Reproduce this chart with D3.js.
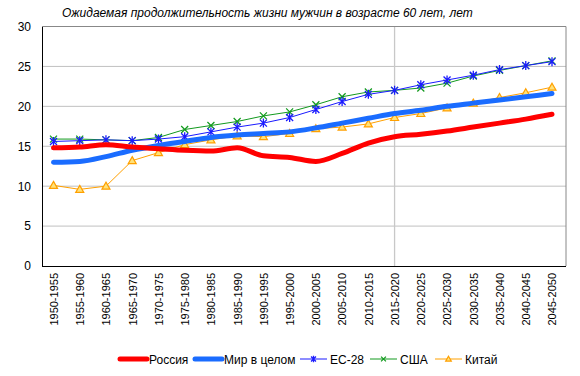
<!DOCTYPE html>
<html><head><meta charset="utf-8">
<script src="https://cdn.jsdelivr.net/npm/d3@7"></script>
<style>body{margin:0;background:#fff}svg{display:block;font-family:"Liberation Sans",Arial,sans-serif}</style>
</head><body><svg id="c" width="580" height="376"></svg>
<script>
const categories = ["1950-1955","1955-1960","1960-1965","1965-1970","1970-1975","1975-1980","1980-1985","1985-1990","1990-1995","1995-2000","2000-2005","2005-2010","2010-2015","2015-2020","2020-2025","2025-2030","2030-2035","2035-2040","2040-2045","2045-2050"];
const russia = [14.8,14.9,15.2,14.9,14.7,14.5,14.4,14.8,13.8,13.6,13.1,14.1,15.4,16.2,16.5,16.9,17.4,17.9,18.4,19.0];
const world  = [13.0,13.1,13.7,14.5,15.1,15.6,16.1,16.4,16.6,16.8,17.3,17.9,18.5,19.1,19.5,20.0,20.4,20.8,21.2,21.6];
const eu28   = [15.6,15.7,15.8,15.7,15.9,16.2,16.8,17.4,17.9,18.6,19.6,20.6,21.5,22.0,22.7,23.3,23.9,24.6,25.1,25.6];
const usa    = [15.9,15.9,15.8,15.7,16.1,17.1,17.6,18.1,18.8,19.3,20.2,21.2,21.8,22.0,22.3,22.9,23.8,24.5,25.1,25.7];
const china  = [10.1,9.6,10.0,13.2,14.2,15.2,15.8,16.3,16.2,16.6,17.2,17.4,17.8,18.6,19.1,19.8,20.4,21.1,21.7,22.4];
const yTicks = [0,5,10,15,20,25,30];
const seriesNames = ["Россия","Мир в целом","ЕС-28","США","Китай"];
const title = "Ожидаемая продолжительность жизни мужчин в возрасте 60 лет, лет";

const svg = d3.select("#c");
const L=42,R=566,T=26.5,B=266;
const x = d3.scalePoint().domain(categories).range([53.5,552]);
const y = d3.scaleLinear().domain([0,30]).range([B,T]);

svg.append("text").attr("x",62).attr("y",17).attr("font-size",12).attr("font-style","italic").attr("fill","#000").text(title);

// gridlines
svg.append("g").selectAll("line").data(yTicks.filter(d=>d>0&&d<30)).join("line")
  .attr("x1",L).attr("x2",R).attr("y1",d=>y(d)).attr("y2",d=>y(d)).attr("stroke","#c0c0c0").attr("stroke-width",1);
// vertical marker line at 2015-2020
svg.append("line").attr("x1",x("2015-2020")).attr("x2",x("2015-2020")).attr("y1",T).attr("y2",B).attr("stroke","#c8c8c8").attr("stroke-width",1.3);
// frame top/right
svg.append("path").attr("d",`M${L},${T}H${R}V${B}`).attr("fill","none").attr("stroke","#888").attr("stroke-width",1);

// y axis labels
const yAxis = d3.axisLeft(y).tickValues(yTicks).tickSize(0).tickPadding(11);
const gy = svg.append("g").attr("transform",`translate(${L},0)`).call(yAxis);
gy.select(".domain").attr("stroke","#000");
gy.selectAll("text").attr("font-size",12).attr("font-family","Liberation Sans, Arial, sans-serif").attr("fill","#000");

const xAxis = d3.axisBottom(x).tickSize(0).tickPadding(7);
const gx = svg.append("g").attr("transform",`translate(0,${B})`).call(xAxis);
gx.select(".domain").attr("d",`M${L},0.5H${R}`).attr("stroke","#000");
gx.selectAll("text").attr("font-size",11).attr("font-family","Liberation Sans, Arial, sans-serif").attr("fill","#000")
  .attr("transform","rotate(-90)").attr("text-anchor","end").attr("dx","-7").attr("dy","0.35em").attr("y",0);

const line = d3.line().x((d,i)=>x(categories[i])).y(d=>y(d)).curve(d3.curveMonotoneX);
const lineS = d3.line().x((d,i)=>x(categories[i])).y(d=>y(d));

const series = [
 {name:seriesNames[0],data:russia,color:"#ff0000",w:5,marker:null,curve:true},
 {name:seriesNames[1],data:world,color:"#1a6cff",w:5,marker:null,curve:true},
 {name:seriesNames[2],data:eu28,color:"#1a1aff",w:1,marker:"star"},
 {name:seriesNames[3],data:usa,color:"#129a1e",w:1,marker:"x"},
 {name:seriesNames[4],data:china,color:"#ffa000",w:1,marker:"tri"}
];

function drawMarker(g,type,cx,cy,color,s){
  s = s||1;
  if(type==="star"){
    g.append("path").attr("d",`M${cx-3.5*s},${cy-3.5*s}L${cx+3.5*s},${cy+3.5*s}M${cx-3.5*s},${cy+3.5*s}L${cx+3.5*s},${cy-3.5*s}M${cx},${cy-4.5*s}V${cy+4.5*s}`)
     .attr("stroke",color).attr("stroke-width",1.3).attr("fill","none");
  } else if(type==="x"){
    g.append("path").attr("d",`M${cx-3.5*s},${cy-3.5*s}L${cx+3.5*s},${cy+3.5*s}M${cx-3.5*s},${cy+3.5*s}L${cx+3.5*s},${cy-3.5*s}`)
     .attr("stroke",color).attr("stroke-width",1.2).attr("fill","none");
  } else if(type==="tri"){
    g.append("path").attr("d",`M${cx},${cy-4*s}L${cx+4*s},${cy+3*s}L${cx-4*s},${cy+3*s}Z`)
     .attr("stroke",color).attr("stroke-width",1.2).attr("fill","#ffe27a");
  }
}

const order = [4,3,2,1,0];
order.forEach(k=>{
  const s = series[k];
  const g = svg.append("g");
  g.append("path").datum(s.data).attr("d", s.curve?line:lineS).attr("fill","none")
    .attr("stroke",s.color).attr("stroke-width",s.w).attr("stroke-linejoin","round").attr("stroke-linecap","round");
  if(s.marker) s.data.forEach((v,i)=>drawMarker(g,s.marker,x(categories[i]),y(v),s.color));
});

// legend
const legX = [120,195,300,370,435];
const ly = 359;
series.forEach((s,i)=>{
  const g = svg.append("g");
  g.append("line").attr("x1",legX[i]).attr("x2",legX[i]+27).attr("y1",ly).attr("y2",ly)
   .attr("stroke",s.color).attr("stroke-width",s.w).attr("stroke-linecap",s.w>2?"round":"butt");
  if(s.marker) drawMarker(g,s.marker,legX[i]+13.5,ly,s.color,0.7);
  g.append("text").attr("x",legX[i]+(s.w>2?29:30)).attr("y",ly+4.5).attr("font-size",12).attr("fill","#000").text(s.name);
});
</script></body></html>
